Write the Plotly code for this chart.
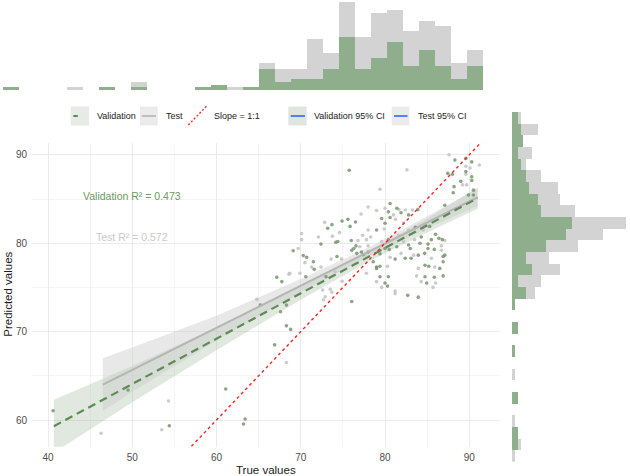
import plotly.graph_objects as go

W, H = 630, 476

# ---------------- data ----------------
val_x = [75.76, 75.6, 76.5, 74.9, 73.7, 73.2, 75.85, 74.4, 74.15, 72.4, 76.0, 69.1, 70.3, 70.7, 71.5,
         71.6, 74.3, 76.05, 76.3, 76.55, 77.2, 76.65, 67.15, 70.6, 73.0,
         88.3, 89.6, 90.3, 87.45, 88.0, 89.6, 90.3, 90.3, 89.0, 88.2, 88.1, 89.9, 90.5, 90.5, 87.1,
         80.6, 81.4, 83.9, 81.9, 80.4, 82.8, 80.6, 79.6, 80.0, 85.3, 83.6, 79.0, 86.0, 84.3, 86.4,
         86.8, 85.5, 80.4, 84.15, 85.1, 82.8, 81.4, 83.0, 80.5, 80.0, 85.1, 85.85, 87.1, 79.4, 83.95,
         84.7, 83.1, 82.4, 81.2, 86.9, 86.9, 79.4, 84.75, 85.2, 86.5, 80.4, 79.4, 84.75, 85.85, 86.9,
         79.0, 80.0, 80.3, 82.7, 83.95, 84.95, 67.75, 65.2, 68.3, 67.6, 76.05, 68.3, 68.8, 66.9,
         40.6, 49.5, 54.4, 61.1, 63.4, 63.2, 79.0, 78.6, 78.0, 77.4]
val_y = [88.25, 82.7, 82.4, 82.5, 82.1, 81.7, 81.9, 80.2, 80.1, 79.9, 80.3, 79.15, 78.6, 78.4, 77.9,
         77.05, 78.5, 79.2, 79.4, 79.7, 79.0, 78.85, 76.15, 76.2, 76.2,
         89.4, 89.6, 89.2, 87.9, 87.8, 88.1, 87.5, 87.1, 87.0, 86.4, 85.7, 85.45, 85.45, 86.0, 84.3,
         84.5, 83.95, 83.8, 83.45, 83.55, 83.2, 82.9, 82.8, 82.25, 81.9, 81.8, 81.5, 81.0, 80.7, 80.55,
         80.4, 80.4, 80.4, 80.0, 79.9, 79.8, 79.6, 79.4, 79.3, 79.4, 79.4, 79.3, 78.65, 78.8, 78.65,
         78.85, 78.3, 78.3, 78.2, 78.5, 77.9, 77.4, 77.5, 77.4, 77.15, 76.2, 76.2, 76.2, 76.15, 76.3,
         77.15, 75.5, 75.15, 74.1, 73.9, 75.5, 75.65, 73.0, 73.0, 72.25, 73.4, 70.65, 70.25, 68.5,
         61.05, 63.4, 59.35, 63.5, 60.1, 59.55, 77.3, 77.9, 79.0, 78.7]

test_x = [78.0, 77.15, 72.84, 78.0, 74.6, 70.1, 73.75, 72.1, 77.35, 70.1, 76.8, 77.8, 78.3, 69.7, 71.3,
          72.4, 70.5, 74.85, 73.6, 77.0, 78.0, 77.6, 68.7, 69.9, 74.1,
          87.6, 91.2, 82.6, 89.6, 90.1, 89.6, 89.2, 89.7, 79.4, 90.3, 81.65, 80.0, 82.4, 83.25, 81.0,
          81.25, 79.0, 82.2, 84.75, 79.9, 82.8, 84.55, 81.6, 87.1, 83.5, 82.2, 79.6, 86.7, 86.7, 81.9,
          83.4, 80.6, 85.5, 80.3, 85.9, 83.95, 83.75,
          79.6, 81.2, 81.2, 84.3, 85.7, 86.0, 79.0, 64.8, 72.6, 72.9, 73.5, 73.7, 74.9, 68.3,
          46.3, 54.3, 53.5, 68.6, 72.7, 77.8]
test_y = [84.1, 83.3, 82.36, 81.5, 81.2, 81.1, 80.8, 80.7, 80.9, 80.4, 80.3, 80.4, 80.7, 79.4, 77.3,
          77.3, 77.8, 78.2, 78.2, 79.6, 79.7, 78.7, 76.6, 76.6, 76.8,
          90.0, 88.85, 88.3, 88.7, 88.5, 87.8, 86.6, 86.6, 86.1, 84.8, 83.8, 83.95, 83.75, 83.75, 83.2,
          82.7, 83.7, 82.3, 82.05, 81.6, 81.5, 81.5, 80.9, 80.3, 80.4, 80.2, 80.2, 79.7, 79.2, 78.85,
          78.65, 78.4, 78.3, 77.4, 77.3, 77.15, 76.3,
          75.0, 74.6, 74.3, 75.65, 75.0, 75.5, 75.65, 73.65, 74.7, 73.95, 74.8, 74.45, 75.7, 66.5,
          58.5, 62.15, 58.9, 76.5, 73.6, 76.6]

# fitted lines
val_fit_x = [40.7, 91.0]
val_fit_y = [59.3, 85.1]
test_fit_x = [46.5, 91.0]
test_fit_y = [64.0, 85.2]

# 95% confidence bands
val_ci_x = [40.7, 46.5, 50, 60, 70, 78, 85, 91]
val_ci_lo = [56.3, 59.9, 62.0, 67.9, 73.6, 77.9, 81.2, 83.9]
val_ci_hi = [62.3, 64.7, 66.1, 70.5, 75.1, 79.0, 82.8, 86.3]
test_ci_x = [46.5, 50, 60, 70, 78, 85, 91]
test_ci_lo = [61.0, 63.2, 69.0, 74.45, 78.5, 81.65, 84.2]
test_ci_hi = [67.0, 68.2, 71.8, 75.95, 79.5, 83.05, 86.2]

# 1:1 line
slope_x = [30, 100]
slope_y = [30, 100]

# marginal histograms (counts per bin)
top_hist_val = [1, 0, 0, 0, 0, 0, 1, 0, 1, 0, 0, 0, 1, 2, 0, 1, 8, 3, 4, 4, 8, 20, 8, 12, 18, 9, 15, 9, 4, 9]
top_hist_test = [0, 0, 0, 0, 1, 0, 0, 0, 2, 0, 0, 0, 0, 0, 1, 0, 2, 5, 4, 15, 6, 13, 12, 17, 12, 13, 11, 15, 6, 6]
right_hist_val = [0, 2, 2, 0, 0, 2, 0, 0, 0, 1, 0, 2, 0, 1, 5, 2, 7, 5, 12, 19, 21, 10, 9, 6, 5, 3, 2, 4, 3, 2]
right_hist_test = [1, 1, 0, 1, 0, 0, 0, 1, 0, 0, 0, 0, 0, 0, 3, 8, 10, 8, 11, 13, 19, 12, 8, 10, 5, 2, 5, 0, 6, 1]

val_r2 = 0.473
test_r2 = 0.572

x_ticks = [40, 50, 60, 70, 80, 90]
y_ticks = [60, 70, 80, 90]

# ---------------- styling ----------------
GREEN_PT = "#6e8f67"
GREEN_LN = "#5e8b55"
GREEN_HIST = "#8fae8b"
GRAY_HIST = "#d3d3d3"
GRAY_PT = "#c2c2c2"
GRAY_LN = "#b5b5b5"
FONT = "Liberation Sans, Arial, sans-serif"


def px(x):
    return x / W


def py(y):
    return 1 - y / H


fig = go.Figure()

# confidence ribbons
fig.add_trace(go.Scatter(x=val_ci_x + val_ci_x[::-1], y=val_ci_hi + val_ci_lo[::-1], fill="toself",
                         fillcolor="rgba(143,174,139,0.28)", line=dict(width=0), mode="lines",
                         hoverinfo="skip", showlegend=False))
fig.add_trace(go.Scatter(x=test_ci_x + test_ci_x[::-1], y=test_ci_hi + test_ci_lo[::-1], fill="toself",
                         fillcolor="rgba(205,205,205,0.45)", line=dict(width=0), mode="lines",
                         hoverinfo="skip", showlegend=False))

# points
fig.add_trace(go.Scatter(x=test_x, y=test_y, mode="markers",
                         marker=dict(size=3.6, color=GRAY_PT, opacity=0.85), showlegend=False))
fig.add_trace(go.Scatter(x=val_x, y=val_y, mode="markers",
                         marker=dict(size=3.6, color=GREEN_PT, opacity=0.8), showlegend=False))

# fitted lines
fig.add_trace(go.Scatter(x=test_fit_x, y=test_fit_y, mode="lines",
                         line=dict(color=GRAY_LN, width=2), showlegend=False))
fig.add_trace(go.Scatter(x=val_fit_x, y=val_fit_y, mode="lines",
                         line=dict(color=GREEN_LN, width=2.2, dash="8px,5px"), showlegend=False))

# 1:1 line
fig.add_trace(go.Scatter(x=slope_x, y=slope_y, mode="lines",
                         line=dict(color="#ff2020", width=1.4, dash="3px,3px"), showlegend=False))

# top histogram
top_idx = list(range(len(top_hist_val)))
fig.add_trace(go.Bar(x=top_idx, y=top_hist_val, marker=dict(color=GREEN_HIST, line=dict(width=0)),
                     xaxis="x2", yaxis="y2", showlegend=False))
fig.add_trace(go.Bar(x=top_idx, y=top_hist_test, marker=dict(color=GRAY_HIST, line=dict(width=0)),
                     xaxis="x2", yaxis="y2", showlegend=False))

# right histogram
right_idx = list(range(len(right_hist_val)))
fig.add_trace(go.Bar(y=right_idx, x=right_hist_val, orientation="h",
                     marker=dict(color=GREEN_HIST, line=dict(width=0)),
                     xaxis="x3", yaxis="y3", showlegend=False))
fig.add_trace(go.Bar(y=right_idx, x=right_hist_test, orientation="h",
                     marker=dict(color=GRAY_HIST, line=dict(width=0)),
                     xaxis="x3", yaxis="y3", showlegend=False))

axis_common = dict(showline=False, zeroline=False, ticks="", showgrid=True,
                   gridcolor="#ebebeb", gridwidth=1,
                   tickfont=dict(family=FONT, size=10, color="#4d4d4d"))

fig.update_layout(
    width=W, height=H, margin=dict(l=0, r=0, t=0, b=0),
    paper_bgcolor="white", plot_bgcolor="white",
    barmode="stack", bargap=0,
    showlegend=False,
    font=dict(family=FONT),
    xaxis=dict(domain=[px(32), px(500)], range=[38.1, 93.65], tickvals=x_ticks, anchor="y",
               minor=dict(dtick=5, tick0=0, showgrid=True, gridcolor="#f5f5f5", gridwidth=1),
               ticklabelstandoff=3, **axis_common),
    yaxis=dict(domain=[py(446.7), py(142.7)], range=[56.98, 91.37], tickvals=y_ticks, anchor="x",
               minor=dict(dtick=5, tick0=0, showgrid=True, gridcolor="#f5f5f5", gridwidth=1),
               ticklabelstandoff=4, **axis_common),
    xaxis2=dict(domain=[px(3), px(483)], range=[-0.5, 29.5], visible=False, anchor="y2"),
    yaxis2=dict(domain=[py(90), py(2)], range=[0, 33], visible=False, anchor="x2"),
    xaxis3=dict(domain=[px(511.7), 1], range=[0, 41.5], visible=False, anchor="y3"),
    yaxis3=dict(domain=[py(461.7), py(111.7)], range=[-0.5, 29.5], visible=False, anchor="x3"),
)

annotations = []
# R² labels
annotations.append(dict(x=50, y=85.3, xref="x", yref="y", text=f"Validation R² = {val_r2:.3f}",
                        showarrow=False, font=dict(size=10.5, color="#6b9a60", family=FONT)))
annotations.append(dict(x=50, y=80.7, xref="x", yref="y", text=f"Test R² = {test_r2:.3f}",
                        showarrow=False, font=dict(size=10.5, color="#c9c9c9", family=FONT)))
# axis titles
annotations.append(dict(x=px(266), y=0, xref="paper", yref="paper", text="True values",
                        xanchor="center", yanchor="bottom", borderpad=0, yshift=-1,
                        showarrow=False, font=dict(size=11.5, color="#1a1a1a", family=FONT)))
annotations.append(dict(x=0, y=py(294.7), xref="paper", yref="paper", text="Predicted values",
                        xanchor="left", yanchor="middle", borderpad=0, xshift=1,
                        textangle=-90, showarrow=False, font=dict(size=11.5, color="#1a1a1a", family=FONT)))

# legend
shapes = []
LY = 116
legend_items = [
    # (bg x0, bg x1, bg colour, text x, label)
    (70.7, 89, "#e7ebe6", 95, "Validation"),
    (140, 157.7, "#ebebeb", 164, "Test"),
    (None, None, None, 212.3, "Slope = 1:1"),
    (288.3, 306.7, "#dfe6dd", 312.3, "Validation 95% CI"),
    (391.7, 409.3, "#ebebeb", 416, "Test 95% CI"),
]
for bx0, bx1, bcol, tx, label in legend_items:
    if bx0 is not None:
        shapes.append(dict(type="rect", xref="paper", yref="paper", x0=px(bx0), x1=px(bx1),
                           y0=py(125.5), y1=py(106.5), fillcolor=bcol, line=dict(width=0), layer="above"))
    annotations.append(dict(x=px(tx), y=py(LY), xref="paper", yref="paper", text=label,
                            xanchor="left", yanchor="middle", showarrow=False,
                            font=dict(size=9, color="#222222", family=FONT)))

shapes.append(dict(type="line", xref="paper", yref="paper", x0=px(73.3), x1=px(77.8), y0=py(LY), y1=py(LY),
                   line=dict(color=GREEN_LN, width=2), layer="above"))
shapes.append(dict(type="line", xref="paper", yref="paper", x0=px(141.7), x1=px(156), y0=py(LY), y1=py(LY),
                   line=dict(color=GRAY_LN, width=1.6), layer="above"))
shapes.append(dict(type="line", xref="paper", yref="paper", x0=px(188.3), x1=px(206.7), y0=py(125), y1=py(106),
                   line=dict(color="#ff2020", width=1.3, dash="2px,2px"), layer="above"))
shapes.append(dict(type="line", xref="paper", yref="paper", x0=px(290.7), x1=px(305), y0=py(LY), y1=py(LY),
                   line=dict(color="#3366ff", width=1.6), layer="above"))
shapes.append(dict(type="line", xref="paper", yref="paper", x0=px(394), x1=px(407.5), y0=py(LY), y1=py(LY),
                   line=dict(color="#3366ff", width=1.6), layer="above"))

fig.update_layout(annotations=annotations, shapes=shapes)

fig.write_html("out.html")
